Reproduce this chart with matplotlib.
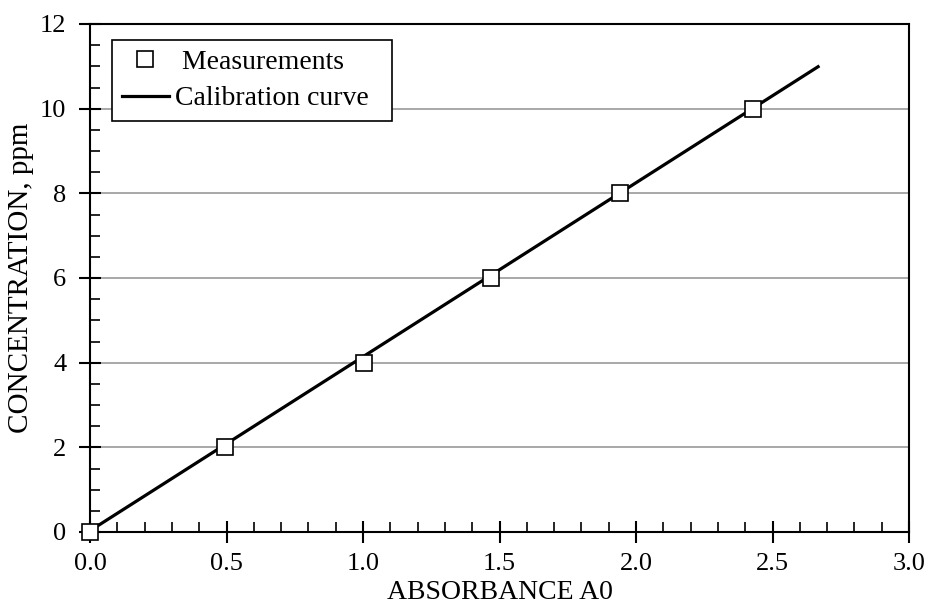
import matplotlib.pyplot as plt
import numpy as np
from matplotlib.ticker import MultipleLocator

plt.rcParams['font.family'] = ['Liberation Serif', 'DejaVu Serif']

# measured absorbance for each standard
absorbance = [0.0, 0.494, 1.004, 1.469, 1.941, 2.430]
concentration = [0, 2, 4, 6, 8, 10]

# fitted calibration line
slope = 4.11
intercept = 0.03
fit_range = [0.0, 2.667]

fig = plt.figure(figsize=(9.32, 6.12), dpi=100)
ax = fig.add_axes([90 / 932, 80 / 612, 819 / 932, 508 / 612])

xs = np.array(fit_range)
ax.plot(xs, slope * xs + intercept, color='black', lw=2.3,
        label='Calibration curve  ', zorder=3)
ax.plot(absorbance, concentration, linestyle='none', marker='s', ms=12,
        mfc='white', mec='black', mew=1.2, label=' Measurements',
        zorder=4, clip_on=False)

ax.set_xlim(0, 3.0)
ax.set_ylim(0, 12)
ax.xaxis.set_major_locator(MultipleLocator(0.5))
ax.xaxis.set_minor_locator(MultipleLocator(0.1))
ax.yaxis.set_major_locator(MultipleLocator(2))
ax.yaxis.set_minor_locator(MultipleLocator(0.5))
ax.xaxis.set_major_formatter(plt.FormatStrFormatter('%.1f'))

ax.tick_params(which='major', direction='inout', length=16, width=1.5,
               labelsize=19, colors='black')
ax.tick_params(axis='x', which='major', pad=7)
ax.tick_params(axis='y', which='major', pad=9)
ax.tick_params(which='minor', direction='in', length=7, width=1.2)
ax.tick_params(top=False, right=False, which='both')

ax.grid(axis='y', which='major', color='#999999', lw=1.2)
ax.set_axisbelow(True)
for s in ax.spines.values():
    s.set_linewidth(1.5)

ax.set_xlabel('ABSORBANCE A0', fontsize=20, labelpad=4)
ax.set_ylabel('CONCENTRATION, ppm', fontsize=21, labelpad=4)

handles, labels = ax.get_legend_handles_labels()
leg = ax.legend(handles[::-1], labels[::-1], loc='upper left',
                bbox_to_anchor=(0.027, 0.969), fontsize=20, frameon=True,
                fancybox=False, edgecolor='black', framealpha=1,
                handlelength=1.7, handletextpad=0.2, borderpad=0.35,
                labelspacing=0.4, borderaxespad=0)
leg.get_frame().set_linewidth(1.2)

fig.savefig('out.png', dpi=100)
